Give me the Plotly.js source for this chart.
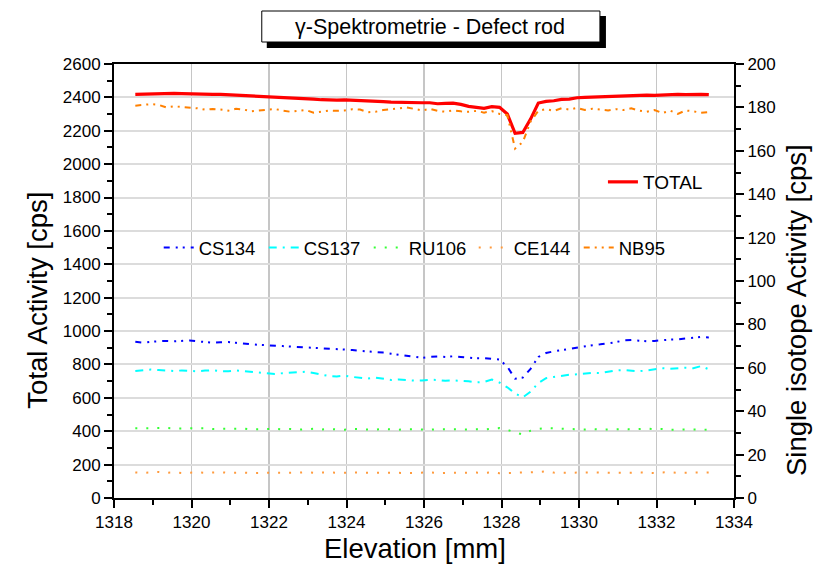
<!DOCTYPE html>
<html><head><meta charset="utf-8">
<script src="https://cdn.plot.ly/plotly-3.0.1.min.js"></script>
<style>html,body{margin:0;padding:0;background:#fff}#chart{width:823px;height:566px}</style>
</head><body><div id="chart"></div>
<script>
const elevation = [
 1318.55,1318.75,1318.95,1319.15,1319.35,1319.55,1319.75,1319.95,1320.15,1320.35,
 1320.55,1320.75,1320.95,1321.15,1321.35,1321.55,1321.75,1321.95,1322.15,1322.35,
 1322.55,1322.75,1322.95,1323.15,1323.35,1323.55,1323.75,1323.95,1324.15,1324.35,
 1324.55,1324.75,1324.95,1325.15,1325.35,1325.55,1325.75,1325.95,1326.15,1326.35,
 1326.55,1326.75,1326.95,1327.15,1327.35,1327.55,1327.75,1327.95,1328.15,1328.35,
 1328.55,1328.75,1328.95,1329.15,1329.35,1329.55,1329.75,1329.95,1330.15,1330.35,
 1330.55,1330.75,1330.95,1331.15,1331.35,1331.55,1331.75,1331.95,1332.15,1332.35,
 1332.55,1332.75,1332.95,1333.15,1333.35];
const total = [
 2418,2420,2422,2424,2423,2424,2422,2420,2422,2420,
 2418,2418,2416,2414,2410,2408,2406,2404,2402,2398,
 2396,2394,2393,2390,2386,2384,2384,2385,2382,2380,
 2378,2377,2374,2372,2370,2371,2366,2368,2368,2362,
 2364,2366,2358,2346,2340,2334,2344,2340,2300,2185,
 2190,2270,2366,2376,2380,2388,2390,2398,2400,2402,
 2404,2406,2408,2408,2410,2412,2413,2412,2415,2414,
 2418,2416,2418,2418,2416];
const cs134 = [
 72.0,71.6,72.0,72.3,72.4,72.2,72.5,72.6,72.2,71.8,
 71.6,71.8,71.9,71.5,71.0,70.8,70.6,70.5,70.2,70.0,
 69.8,69.6,69.4,69.2,68.9,68.7,68.8,68.5,68.2,67.8,
 67.6,67.2,67.0,66.5,66.0,65.6,64.8,64.6,65.0,65.2,
 65.0,65.3,65.0,64.6,64.4,64.5,64.2,63.8,60.5,55.0,
 55.5,59.5,65.0,66.8,67.6,68.2,68.9,69.5,70.0,70.4,
 70.8,71.2,71.8,72.6,72.8,72.5,72.2,72.4,72.8,73.0,
 73.1,73.4,73.6,74.2,74.0];
const cs137 = [
 58.5,58.8,59.2,59.0,58.6,58.5,58.8,58.6,58.4,58.7,
 58.9,58.5,58.4,58.8,58.5,58.2,57.8,57.4,57.2,57.5,
 57.8,58.0,58.2,57.6,56.8,56.2,56.0,56.4,55.8,55.3,
 55.0,55.5,54.8,54.4,54.6,54.3,54.1,54.2,54.5,54.4,
 54.0,54.2,54.1,53.8,53.3,53.5,54.6,53.2,51.0,48.2,
 46.4,49.0,53.0,55.2,55.8,56.4,56.8,57.0,57.4,57.7,
 57.6,58.2,58.8,59.0,58.6,58.4,58.8,59.2,59.8,59.6,
 59.8,60.0,59.8,60.8,59.3];
const ru106 = [
 32.1,32.2,32.0,32.1,32.3,32.0,32.1,31.9,32.0,32.2,
 31.8,31.9,32.0,32.1,32.0,31.6,31.8,31.7,31.9,31.6,
 31.8,31.5,31.7,31.9,31.6,31.8,31.6,31.5,31.8,31.6,
 31.7,31.5,31.8,31.6,31.5,31.7,31.6,31.8,31.5,31.7,
 31.6,31.8,31.5,31.6,31.7,31.5,31.9,32.2,31.4,30.2,
 29.2,31.0,31.8,32.2,32.0,31.8,31.9,31.7,31.6,31.8,
 31.5,31.7,31.9,31.8,31.6,31.9,32.0,31.7,31.8,31.5,
 31.6,31.7,31.8,31.6,31.4];
const ce144 = [
 11.8,11.6,11.8,12.0,11.6,11.8,11.5,11.7,11.8,11.6,
 11.7,11.9,11.6,11.8,11.7,11.5,11.6,11.8,11.7,11.6,
 11.5,11.7,11.9,11.6,11.8,11.7,11.5,11.6,11.8,11.7,
 11.5,11.6,11.7,11.8,11.6,11.5,11.7,11.6,11.8,11.5,
 11.6,11.7,11.8,11.6,11.7,11.6,11.8,11.4,11.5,11.5,
 11.6,11.8,12.0,12.3,11.7,11.6,11.7,11.5,11.6,11.8,
 11.7,11.6,11.8,11.5,11.6,11.8,11.7,11.5,11.8,11.9,
 11.6,11.7,11.5,11.7,11.8];
const nb95 = [
 180.8,181.0,181.5,181.2,180.0,180.5,180.3,179.8,179.6,179.0,
 179.3,179.0,178.5,179.4,179.0,178.2,178.6,179.0,179.3,178.5,
 178.0,178.4,178.8,177.6,178.2,178.5,178.4,178.6,179.2,179.0,
 177.8,178.0,178.8,179.0,179.5,180.0,179.2,178.6,179.3,178.4,
 178.0,178.6,178.2,178.0,178.4,177.6,178.3,177.0,176.5,161.0,
 164.0,173.5,178.4,179.2,178.4,179.6,179.0,179.8,178.8,179.4,
 179.0,178.6,179.2,178.8,179.6,178.5,178.0,178.8,177.4,178.5,
 177.0,178.6,178.2,177.5,177.8];

const chartTitle = 'γ-Spektrometrie - Defect rod';
const xTitle = 'Elevation [mm]';
const yTitle = 'Total Activity [cps]';
const y2Title = 'Single isotope Activity [cps]';
const isoNames = ['CS134','CS137','RU106','CE144','NB95'];
const isoData = [cs134, cs137, ru106, ce144, nb95];
const isoColors = ['#0000ff','#00ffff','#33ff33','#ff9a3c','#ff8000'];
const isoDash = ['6px,6px,2px,5px,2px,6px','8px,6px,2px,6px','2px,9px','2px,9px','6px,5px,2px,5px,2px,5px'];

const FONT = 'Arial, "Liberation Sans", sans-serif';
const traces = isoNames.map((n,i)=>({
  x: elevation, y: isoData[i], name: n, type:'scatter', mode:'lines',
  yaxis:'y2', legend:'legend2',
  line:{color: isoColors[i], width:2, dash: isoDash[i]}
}));
traces.push({x: elevation, y: total, name:'TOTAL', type:'scatter', mode:'lines',
  yaxis:'y', legend:'legend', line:{color:'#ff0000', width:3.2}});

const L=114.3, R=734, T=64, B=498;
const px = v => (v-L)/(R-L);
const py = v => (B-v)/(B-T);

const layout = {
  width:823, height:566,
  margin:{l:L, r:823-R, t:T, b:566-B, pad:0},
  paper_bgcolor:'#fff', plot_bgcolor:'#fff',
  font:{family:FONT, color:'#000', size:17},
  showlegend:true,
  xaxis:{range:[1318,1334], dtick:2, tick0:1318, showgrid:true, gridcolor:'#c6c6c6', gridwidth:1.5,
    zeroline:false, showline:true, linecolor:'#000', linewidth:2, mirror:true,
    ticks:'outside', ticklen:8, tickwidth:2, tickcolor:'#000',
    minor:{dtick:1, ticks:'outside', ticklen:5, tickwidth:2, tickcolor:'#000', showgrid:false},
    tickfont:{size:17, family:FONT}},
  xaxis2:{overlaying:'x', side:'top', anchor:'y', range:[1318,1334], tickvals:[1320,1325,1330],
    ticks:'inside', ticklen:7, tickwidth:2, tickcolor:'#000', showticklabels:false,
    showgrid:false, zeroline:false, showline:false},
  yaxis:{range:[0,2600], dtick:200, showgrid:true, gridcolor:'#dcdcdc', gridwidth:2,
    zeroline:false, showline:true, linecolor:'#000', linewidth:2,
    ticks:'outside', ticklen:8, tickwidth:2, tickcolor:'#000',
    minor:{dtick:100, ticks:'outside', ticklen:5, tickwidth:2, tickcolor:'#000', showgrid:false},
    tickfont:{size:17, family:FONT}},
  yaxis2:{overlaying:'y', side:'right', range:[0,200], dtick:20, showgrid:false,
    zeroline:false, showline:true, linecolor:'#000', linewidth:2,
    ticks:'outside', ticklen:8, tickwidth:2, tickcolor:'#000',
    minor:{dtick:10, ticks:'outside', ticklen:5, tickwidth:2, tickcolor:'#000', showgrid:false},
    tickfont:{size:17, family:FONT}},
  legend:{x:px(603), y:py(182), xanchor:'left', yanchor:'middle', bgcolor:'rgba(0,0,0,0)',
    borderwidth:0, font:{size:19, family:FONT}},
  legend2:{x:px(159), y:py(248), xanchor:'left', yanchor:'middle', orientation:'h',
    bgcolor:'rgba(0,0,0,0)', borderwidth:0, entrywidth:60, entrywidthmode:'pixels',
    font:{size:18.5, family:FONT}},
  shapes:[
    {type:'rect', xref:'paper', yref:'paper', x0:px(267), x1:px(606), y0:py(48), y1:py(16),
      fillcolor:'#000', line:{width:0}, layer:'above'},
    {type:'rect', xref:'paper', yref:'paper', x0:px(262), x1:px(600), y0:py(42), y1:py(11),
      fillcolor:'#fff', line:{color:'#000', width:1}, layer:'above'}
  ],
  annotations:[
    {text:chartTitle, xref:'paper', yref:'paper', x:px(430), y:py(27), xanchor:'center', yanchor:'middle',
      showarrow:false, font:{size:21.5, family:FONT, color:'#000'}},
    {text:xTitle, xref:'paper', yref:'paper', x:px(415), y:py(548), xanchor:'center', yanchor:'middle',
      showarrow:false, font:{size:27.5, family:FONT, color:'#000'}},
    {text:yTitle, xref:'paper', yref:'paper', x:px(37), y:py(300), xanchor:'center', yanchor:'middle',
      textangle:-90, showarrow:false, font:{size:27.5, family:FONT, color:'#000'}},
    {text:y2Title, xref:'paper', yref:'paper', x:px(796), y:py(310), xanchor:'center', yanchor:'middle',
      textangle:-90, showarrow:false, font:{size:27.5, family:FONT, color:'#000'}}
  ]
};
Plotly.newPlot('chart', traces, layout, {displayModeBar:false, staticPlot:true});
</script></body></html>
